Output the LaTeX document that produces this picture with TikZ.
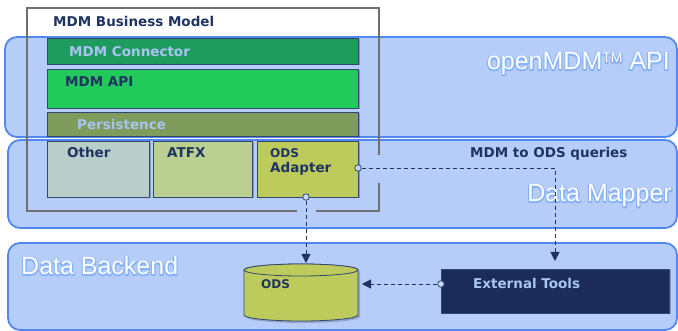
\documentclass[tikz,border=0pt]{standalone}
\usepackage{fontspec}
\setmainfont{DejaVu Sans}
\newfontfamily\bigfont{Liberation Sans}
\usetikzlibrary{arrows.meta,shadows}
\definecolor{bandfill}{HTML}{B7CDF9}
\definecolor{bandline}{HTML}{5088EE}
\definecolor{navy}{HTML}{1F3461}
\definecolor{boxline}{HTML}{34476E}
\definecolor{lighttext}{HTML}{A9C4F0}
\definecolor{glowc}{HTML}{88B4F5}
\definecolor{cConn}{HTML}{1E9B5F}
\definecolor{cApi}{HTML}{22C95B}
\definecolor{cPers}{HTML}{7F9C5C}
\definecolor{cOther}{HTML}{B9CEC9}
\definecolor{cAtfx}{HTML}{BACF91}
\definecolor{cOds}{HTML}{BDCB5C}
\definecolor{cExt}{HTML}{1B2C5A}
\definecolor{portfill}{HTML}{C8DAF8}
\definecolor{bmline}{HTML}{707070}
% white text with a light blue outer glow: stroked copy behind, filled copy on top
\newcommand{\glowtext}[1]{\rlap{\color{glowc}\special{pdf:code q 1 Tr 2.4 w 1 j 0.533 0.706 0.961 RG}#1\special{pdf:code Q}}{\color{white}#1}}
\begin{document}
\begin{tikzpicture}[x=1pt,y=-1pt,
  band/.style={draw=bandline, line width=1.8pt, fill=bandfill, rounded corners=12pt, anchor=north west, inner sep=0, outer sep=0},
  box/.style={draw=boxline, line width=0.8pt, anchor=north west, inner sep=0, outer sep=0,
    drop shadow={shadow xshift=1.5pt, shadow yshift=-1.5pt, opacity=0.25, fill=black}},
  lbl/.style={font=\bfseries\fontsize{13.5}{15}\selectfont, text=navy, inner sep=0},
  lbllight/.style={lbl, text=lighttext},
  biglbl/.style={font=\bigfont\fontsize{25}{26}\selectfont, inner sep=0},
  port/.style={circle, draw=boxline, fill=portfill, line width=0.8pt, inner sep=0, minimum size=6.5pt},
  conn/.style={draw=navy, line width=0.9pt, dash pattern=on 4pt off 3pt, -{Triangle[width=9pt,length=9pt]}}
]
\useasboundingbox (0,0) rectangle (678,331);
% bands
\node[band, minimum width=672pt, minimum height=100pt] (apiband) at (5,37) {};
\node[band, minimum width=669pt, minimum height=88pt] (mapband) at (8,140) {};
\node[band, minimum width=669pt, minimum height=87pt] (backband) at (8,243) {};
% business model outline
\draw[bmline, line width=1.2pt] (379,155) -- (379,8) -- (27,8) -- (27,211) -- (297,211);
\draw[bmline, line width=1.2pt] (316,211) -- (379,211) -- (379,183);
\node[lbl, anchor=base west] (bmT) at (53,27) {MDM Business Model};
% layer boxes
\node[box, fill=cConn, minimum width=311pt, minimum height=26pt] (conn) at (47,38) {};
\node[lbllight, anchor=base west] (connT) at (69,57) {MDM Connector};
\node[box, fill=cApi, minimum width=311pt, minimum height=39pt] (api) at (47,69) {};
\node[lbl, anchor=base west] (apiT) at (65,87) {MDM API};
\node[box, fill=cPers, minimum width=311pt, minimum height=24pt] (pers) at (47,112) {};
\node[lbllight, anchor=base west] (persT) at (77,130) {Persistence};
\node[box, fill=cOther, minimum width=102pt, minimum height=56pt] (other) at (47,141) {};
\node[lbl, anchor=base west] (otherT) at (67,158) {Other};
\node[box, fill=cAtfx, minimum width=99pt, minimum height=56pt] (atfx) at (153,141) {};
\node[lbl, anchor=base west] (atfxT) at (167,158) {ATFX};
\node[box, fill=cOds, minimum width=101pt, minimum height=56pt] (adapter) at (257,141) {};
\node[lbl, anchor=base west, font=\bfseries\fontsize{12}{13}\selectfont] (adapterT1) at (270,158) {ODS};
\node[lbl, anchor=base west] (adapterT2) at (270,173) {Adapter};
% ODS cylinder
\fill[black, opacity=0.2] (246,272) -- (246,317) arc[start angle=180, end angle=360, x radius=57pt, y radius=6pt] -- (360,272) arc[start angle=0, end angle=180, x radius=57pt, y radius=6pt] -- cycle;
\draw[boxline, line width=0.8pt, fill=cOds] (244,270) -- (244,315) arc[start angle=180, end angle=360, x radius=57pt, y radius=6pt] -- (358,270) arc[start angle=0, end angle=180, x radius=57pt, y radius=6pt] -- cycle;
\draw[boxline, line width=0.8pt, fill=cOds] (301,270) ellipse [x radius=57pt, y radius=6pt];
\node[inner sep=0, outer sep=0, minimum width=114pt, minimum height=57pt] (ods) at (301,292.5) {};
\node[lbl, anchor=base west, font=\bfseries\fontsize{12}{13}\selectfont] (odsT) at (261,289) {ODS};
% external tools
\node[box, fill=cExt, minimum width=228pt, minimum height=44pt] (ext) at (441,269) {};
\node[lbllight, anchor=base west] (extT) at (473,289) {External Tools};
% big labels
\node[biglbl, anchor=base east] (apiL) at (670,70) {\glowtext{openMDM\raisebox{7pt}{\fontsize{14}{14}\selectfont TM} API}};
\node[biglbl, anchor=base east] (mapL) at (672,202) {\glowtext{Data Mapper}};
\node[biglbl, anchor=base west] (backL) at (21,275) {\glowtext{Data Backend}};
\node[lbl, anchor=base west] (queryL) at (470,158) {MDM to ODS queries};
% connectors
\coordinate (odsTop) at (306,263);
\coordinate (extTop) at (555,261);
\coordinate (odsRight) at (362,284);
\node[port] (p1) at (358,168) {};
\node[port] (p2) at (306,197) {};
\node[port] (p3) at (441,284) {};
\draw[conn] (p1) -| (extTop);
\draw[conn] (p2) -- (odsTop);
\draw[conn] (p3) -- (odsRight);
\end{tikzpicture}
\end{document}
